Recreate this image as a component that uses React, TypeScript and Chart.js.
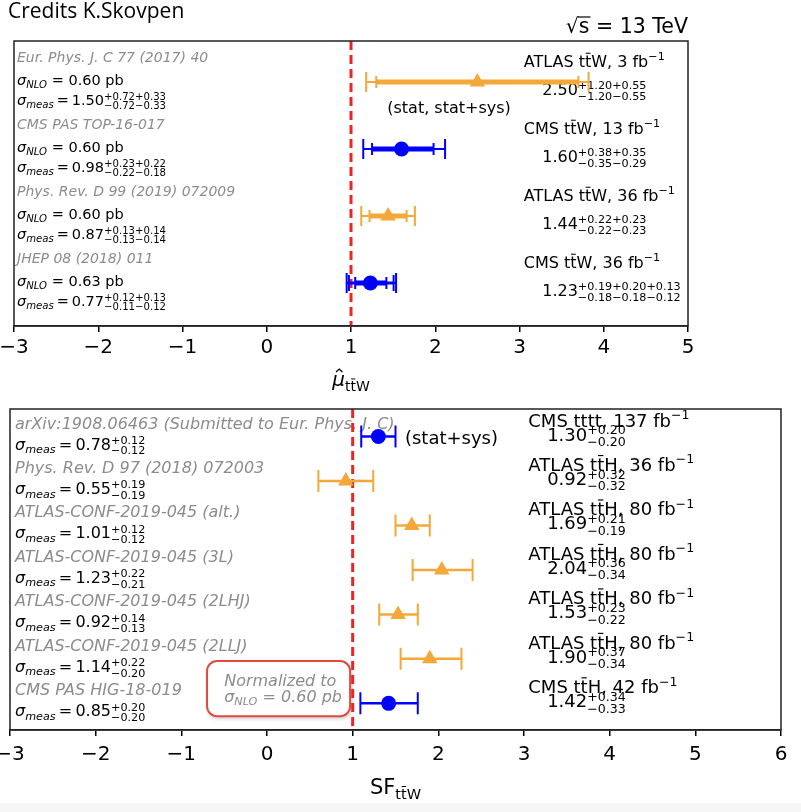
import React, { useEffect, useRef } from 'react';
import { Chart, registerables } from 'chart.js';
Chart.register(...registerables);

const FAM = "'DejaVu Sans', sans-serif";
const ORANGE = '#f4a83a';
const BLUE = '#0000ff';
const GRAY = '#8c8c8c';
const RED = '#ee2424';
const OFF = 50; // canvas shifted left by this many px

// ---------- top panel data ----------
const topRefs = ['Eur. Phys. J. C 77 (2017) 40', 'CMS PAS TOP-16-017', 'Phys. Rev. D 99 (2019) 072009', 'JHEP 08 (2018) 011'];
const topNLO = ['0.60', '0.60', '0.60', '0.63'];
const topMeas = ['1.50', '0.98', '0.87', '0.77'];
const topMeasUp = [['0.72', '0.33'], ['0.23', '0.22'], ['0.13', '0.14'], ['0.12', '0.13']];
const topMeasDown = [['0.72', '0.33'], ['0.22', '0.18'], ['0.13', '0.14'], ['0.11', '0.12']];
const topExp = ['ATLAS', 'CMS', 'ATLAS', 'CMS'];
const topProc = ['tt\u0304W', 'tt\u0304W', 'tt\u0304W', 'tt\u0304W'];
const topLumi = ['3', '13', '36', '36'];
const topMu = [2.5, 1.6, 1.44, 1.23];
const topMuUp = [[1.2, 0.55], [0.38, 0.35], [0.22, 0.23], [0.19, 0.2, 0.13]];
const topMuDown = [[1.2, 0.55], [0.35, 0.29], [0.22, 0.23], [0.18, 0.18, 0.12]];
const topXRange = [-3, 5];

// ---------- bottom panel data ----------
const botRefs = ['arXiv:1908.06463 (Submitted to Eur. Phys. J. C)', 'Phys. Rev. D 97 (2018) 072003', 'ATLAS-CONF-2019-045 (alt.)', 'ATLAS-CONF-2019-045 (3L)', 'ATLAS-CONF-2019-045 (2LHJ)', 'ATLAS-CONF-2019-045 (2LLJ)', 'CMS PAS HIG-18-019'];
const botMeas = ['0.78', '0.55', '1.01', '1.23', '0.92', '1.14', '0.85'];
const botMeasUp = ['0.12', '0.19', '0.12', '0.22', '0.14', '0.22', '0.20'];
const botMeasDown = ['0.12', '0.19', '0.12', '0.21', '0.13', '0.20', '0.20'];
const botExp = ['CMS', 'ATLAS', 'ATLAS', 'ATLAS', 'ATLAS', 'ATLAS', 'CMS'];
const botProc = ['tttt', 'tt\u0304H', 'tt\u0304H', 'tt\u0304H', 'tt\u0304H', 'tt\u0304H', 'tt\u0304H'];
const botLumi = ['137', '36', '80', '80', '80', '80', '42'];
const botSF = [1.30, 0.92, 1.69, 2.04, 1.53, 1.90, 1.42];
const botSFUp = [0.20, 0.32, 0.21, 0.36, 0.23, 0.37, 0.34];
const botSFDown = [0.20, 0.32, 0.19, 0.34, 0.22, 0.34, 0.33];
const botXRange = [-3, 6];

type Opt = { italic?: boolean; color?: string; fam?: string };
function fontStr(size: number, o: Opt = {}) {
  return `${o.italic ? 'italic ' : ''}${size}px ${o.fam || FAM}`;
}
function put(ctx: CanvasRenderingContext2D, s: string, x: number, y: number, size: number, o: Opt = {}) {
  ctx.font = fontStr(size, o);
  ctx.fillStyle = o.color || '#000';
  ctx.textAlign = 'left';
  ctx.textBaseline = 'alphabetic';
  ctx.fillText(s, x, y);
  return ctx.measureText(s).width;
}
function measure(ctx: CanvasRenderingContext2D, s: string, size: number, o: Opt = {}) {
  ctx.font = fontStr(size, o);
  return ctx.measureText(s).width;
}
function putBar(ctx: CanvasRenderingContext2D, s: string, x: number, y: number, size: number, o: Opt = {}) {
  let cx = x;
  let run = '';
  const chars = Array.from(s);
  for (let i = 0; i < chars.length; i++) {
    const c = chars[i];
    if (chars[i + 1] === '\u0304') {
      if (run) { cx += put(ctx, run, cx, y, size, o); run = ''; }
      const w = put(ctx, c, cx, y, size, o);
      ctx.strokeStyle = o.color || '#000';
      ctx.lineWidth = Math.max(1, size * 0.065);
      const by = y - size * 0.86;
      ctx.beginPath(); ctx.moveTo(cx + w * 0.12, by); ctx.lineTo(cx + w * 0.88, by); ctx.stroke();
      cx += w; i++;
    } else run += c;
  }
  if (run) cx += put(ctx, run, cx, y, size, o);
  return cx - x;
}
function putScripted(ctx: CanvasRenderingContext2D, base: string, ups: string[], downs: string[], x: number, y: number, size: number, o: Opt = {}) {
  const w = put(ctx, base, x, y, size, o);
  const ss = size * 0.7;
  const a = put(ctx, ups.map(u => '+' + u).join(''), x + w, y - size * 0.36, ss, o);
  const b = put(ctx, downs.map(d => '\u2212' + d).join(''), x + w, y + size * 0.3, ss, o);
  return w + Math.max(a, b);
}
function putSigma(ctx: CanvasRenderingContext2D, sub: string, x: number, y: number, size: number, o: Opt = {}) {
  let w = put(ctx, 'σ', x, y, size, { ...o, italic: true });
  w += put(ctx, sub, x + w, y + size * 0.22, size * 0.7, { ...o, italic: true });
  return w;
}
function putProc(ctx: CanvasRenderingContext2D, exp: string, proc: string, lumi: string, x: number, y: number, size: number) {
  let cx = x;
  cx += put(ctx, exp + ' ', cx, y, size);
  cx += putBar(ctx, proc, cx, y, size);
  cx += put(ctx, ', ' + lumi + ' fb', cx, y, size);
  cx += put(ctx, '\u22121', cx, y - size * 0.42, size * 0.7);
  return cx - x;
}
function quad(a: number[], k: number) {
  let s = 0;
  for (let i = 0; i < k; i++) s += a[i] * a[i];
  return Math.sqrt(s);
}
function drawErr(chart: any, vals: number[], ups: number[][], downs: number[][], colors: string[], single: boolean) {
  const ctx: CanvasRenderingContext2D = chart.ctx;
  const xs = chart.scales.x, ys = chart.scales.y;
  vals.forEach((v, i) => {
    const y = ys.getPixelForValue(i);
    const n = ups[i].length;
    for (let k = n; k >= 1; k--) {
      const hi = quad(ups[i], k), lo = quad(downs[i], k);
      const x1 = xs.getPixelForValue(v - lo), x2 = xs.getPixelForValue(v + hi);
      let lw = 2, cap = 10;
      if (single) { lw = 2.5; cap = 11; }
      else if (k === n) { lw = 2; cap = 10; }
      else if (k === 1) { lw = 5; cap = 6; }
      else { lw = 3; cap = 8; }
      ctx.strokeStyle = colors[i];
      ctx.setLineDash([]);
      ctx.lineWidth = lw;
      ctx.beginPath(); ctx.moveTo(x1, y); ctx.lineTo(x2, y); ctx.stroke();
      ctx.lineWidth = 2;
      ctx.beginPath();
      ctx.moveTo(x1, y - cap); ctx.lineTo(x1, y + cap);
      ctx.moveTo(x2, y - cap); ctx.lineTo(x2, y + cap);
      ctx.stroke();
    }
  });
}
function drawRefLine(chart: any) {
  const ctx: CanvasRenderingContext2D = chart.ctx;
  const ca = chart.chartArea;
  const x = chart.scales.x.getPixelForValue(1);
  ctx.save();
  ctx.strokeStyle = RED; ctx.lineWidth = 3; ctx.setLineDash([9, 5]);
  ctx.beginPath(); ctx.moveTo(x, ca.top); ctx.lineTo(x, ca.bottom); ctx.stroke();
  ctx.restore();
}
function drawFrame(chart: any) {
  const ctx: CanvasRenderingContext2D = chart.ctx;
  const ca = chart.chartArea;
  ctx.save();
  ctx.strokeStyle = '#222'; ctx.lineWidth = 1.5; ctx.setLineDash([]);
  ctx.strokeRect(ca.left, ca.top, ca.right - ca.left, ca.bottom - ca.top);
  ctx.restore();
}

function colorsOf(exps: string[]) { return exps.map(e => (e === 'ATLAS' ? ORANGE : BLUE)); }

function buildConfig(p: {
  vals: number[]; exps: string[]; xr: number[]; yr: number[];
  pad: { left: number; right: number; top: number }; scaleH: number; tickPad: number;
  before: (c: any) => void;
}) {
  const cols = colorsOf(p.exps);
  return {
    type: 'scatter' as const,
    data: {
      datasets: [{
        data: p.vals.map((v, i) => ({ x: v, y: i })),
        pointStyle: p.exps.map(e => (e === 'ATLAS' ? 'triangle' : 'circle')),
        pointRadius: p.exps.map(e => (e === 'ATLAS' ? 9 : 7.5)),
        pointBackgroundColor: cols,
        pointBorderColor: cols,
        pointBorderWidth: 0,
        showLine: false,
      }],
    },
    options: {
      animation: false as const,
      responsive: false,
      devicePixelRatio: 1,
      events: [],
      layout: { padding: { left: p.pad.left, right: p.pad.right, top: p.pad.top, bottom: 0 } },
      plugins: { legend: { display: false }, tooltip: { enabled: false } },
      scales: {
        x: {
          type: 'linear' as const, min: p.xr[0], max: p.xr[1],
          ticks: {
            stepSize: 1, autoSkip: false, maxRotation: 0, padding: p.tickPad, color: '#000',
            font: { size: 20, family: FAM },
            callback: (v: any) => (Number(v) < 0 ? '\u2212' + Math.abs(Number(v)) : String(v)),
          },
          grid: { drawOnChartArea: false, drawTicks: true, tickLength: 6, color: '#000', lineWidth: 1.5 },
          border: { display: true, color: '#222', width: 1.5 },
          afterFit: (s: any) => { s.height = p.scaleH; },
        },
        y: { type: 'linear' as const, display: false, min: p.yr[0], max: p.yr[1], reverse: true },
      },
    },
    plugins: [{
      id: 'decor',
      beforeDatasetsDraw: (c: any) => { p.before(c); },
      afterDraw: (c: any) => { drawFrame(c); },
    }],
  };
}

function drawTop(chart: any) {
  const ctx: CanvasRenderingContext2D = chart.ctx;
  const ca = chart.chartArea;
  const xs = chart.scales.x, ys = chart.scales.y;
  ctx.save();
  // header
  put(ctx, 'Credits K.Skovpen', 8 + OFF, 18, 21, { fam: "'Open Sans', sans-serif" });
  {
    const size = 20.5;
    const tail = ' = 13 TeV';
    const wr = measure(ctx, '√', size), ws = measure(ctx, 's', size), wt = measure(ctx, tail, size);
    let x = ca.right - (wr + ws + wt);
    const y = 33;
    put(ctx, '√', x, y, size);
    ctx.strokeStyle = '#000'; ctx.lineWidth = 1.2;
    ctx.beginPath(); ctx.moveTo(x + wr - 1, y - size * 0.78); ctx.lineTo(x + wr + ws + 1, y - size * 0.78); ctx.stroke();
    put(ctx, 's', x + wr, y, size);
    put(ctx, tail, x + wr + ws, y, size);
  }
  // axis title
  {
    const cx = (ca.left + ca.right) / 2;
    const wm = measure(ctx, 'μ', 20, { italic: true });
    const wsub = measure(ctx, 'ttW', 14);
    let x = cx - (wm + wsub) / 2;
    const y = 386;
    put(ctx, 'μ', x, y, 20, { italic: true });
    ctx.strokeStyle = '#000'; ctx.lineWidth = 1.2;
    ctx.beginPath();
    ctx.moveTo(x + wm * 0.3, y - 14); ctx.lineTo(x + wm * 0.55, y - 17); ctx.lineTo(x + wm * 0.8, y - 14);
    ctx.stroke();
    putBar(ctx, 'tt\u0304W', x + wm, y + 5, 14);
  }
  // left texts
  const x0 = ca.left + 3;
  const fs = 14.5;
  topRefs.forEach((r, i) => {
    const ry = ys.getPixelForValue(i);
    put(ctx, r, x0, ry - 20, 14, { italic: true, color: GRAY });
    let w = putSigma(ctx, 'NLO', x0, ry + 3, fs);
    put(ctx, ' = ' + topNLO[i] + ' pb', x0 + w, ry + 3, fs);
    w = putSigma(ctx, 'meas', x0, ry + 23, fs);
    w += put(ctx, '\u2009=\u2009', x0 + w, ry + 23, fs);
    putScripted(ctx, topMeas[i], topMeasUp[i], topMeasDown[i], x0 + w, ry + 23, fs);
  });
  // right texts
  topMu.forEach((v, i) => {
    const ry = ys.getPixelForValue(i);
    putProc(ctx, topExp[i], topProc[i], topLumi[i], xs.getPixelForValue(3.05), ry - 15, 16);
    putScripted(ctx, v.toFixed(2), topMuUp[i].map(u => u.toFixed(2)), topMuDown[i].map(d => d.toFixed(2)), xs.getPixelForValue(3.27), ry + 13, 16);
  });
  put(ctx, '(stat, stat+sys)', xs.getPixelForValue(1.43), ys.getPixelForValue(0) + 31, 16);
  drawRefLine(chart);
  drawErr(chart, topMu, topMuUp, topMuDown, colorsOf(topExp), false);
  ctx.restore();
}

function drawBottom(chart: any) {
  const ctx: CanvasRenderingContext2D = chart.ctx;
  const ca = chart.chartArea;
  const xs = chart.scales.x, ys = chart.scales.y;
  ctx.save();
  const x0 = ca.left + 5;
  botRefs.forEach((r, i) => {
    const ry = ys.getPixelForValue(i);
    put(ctx, r, x0, ry - 8, 16, { italic: true, color: GRAY });
    let w = putSigma(ctx, 'meas', x0, ry + 13, 16);
    w += put(ctx, '\u2009=\u2009', x0 + w, ry + 13, 16);
    putScripted(ctx, botMeas[i], [botMeasUp[i]], [botMeasDown[i]], x0 + w, ry + 13, 16);
  });
  botSF.forEach((v, i) => {
    const ry = ys.getPixelForValue(i);
    putProc(ctx, botExp[i], botProc[i], botLumi[i], xs.getPixelForValue(3.05), ry - 10, 18);
    putScripted(ctx, v.toFixed(2), [botSFUp[i].toFixed(2)], [botSFDown[i].toFixed(2)], xs.getPixelForValue(3.27), ry + 4, 18);
  });
  put(ctx, '(stat+sys)', xs.getPixelForValue(1.61), ys.getPixelForValue(0) + 7, 18);
  // annotation box
  {
    const bx1 = xs.getPixelForValue(-0.70), bx2 = xs.getPixelForValue(0.97);
    const by1 = ys.getPixelForValue(5.05), by2 = ys.getPixelForValue(6.29);
    ctx.save();
    ctx.shadowColor = 'rgba(0,0,0,0.25)'; ctx.shadowBlur = 4; ctx.shadowOffsetX = 1; ctx.shadowOffsetY = 2;
    ctx.beginPath();
    (ctx as any).roundRect(bx1, by1, bx2 - bx1, by2 - by1, 10);
    ctx.fillStyle = '#fff'; ctx.fill();
    ctx.restore();
    ctx.beginPath();
    (ctx as any).roundRect(bx1, by1, bx2 - bx1, by2 - by1, 10);
    ctx.strokeStyle = '#e04a40'; ctx.lineWidth = 2; ctx.setLineDash([]); ctx.stroke();
    const tx = xs.getPixelForValue(-0.50);
    put(ctx, 'Normalized to', tx, ys.getPixelForValue(5.62), 16, { italic: true, color: GRAY });
    const w = putSigma(ctx, 'NLO', tx, ys.getPixelForValue(5.96), 16, { color: GRAY });
    put(ctx, ' = 0.60 pb', tx + w, ys.getPixelForValue(5.96), 16, { italic: true, color: GRAY });
  }
  // axis title
  {
    const cx = (ca.left + ca.right) / 2;
    const wm = measure(ctx, 'SF', 21);
    const wsub = measure(ctx, 'ttW', 14.5);
    const x = cx - (wm + wsub) / 2;
    const y = 394;
    put(ctx, 'SF', x, y, 21);
    putBar(ctx, 'tt\u0304W', x + wm, y + 5, 14.5);
  }
  drawRefLine(chart);
  drawErr(chart, botSF, botSFUp.map(u => [u]), botSFDown.map(d => [d]), colorsOf(botExp), true);
  ctx.restore();
}

export default function App() {
  const topRef = useRef<HTMLCanvasElement>(null);
  const botRef = useRef<HTMLCanvasElement>(null);
  useEffect(() => {
    const c1 = new Chart(topRef.current as HTMLCanvasElement, buildConfig({
      vals: topMu, exps: topExp, xr: topXRange, yr: [-0.612, 3.642],
      pad: { left: 14 + OFF, right: 900 - 688 - OFF, top: 41 }, scaleH: 400 - 326, tickPad: 4,
      before: drawTop,
    }) as any);
    const c2 = new Chart(botRef.current as HTMLCanvasElement, buildConfig({
      vals: botSF, exps: botExp, xr: botXRange, yr: [-0.62, 6.6],
      pad: { left: 10 + OFF, right: 900 - 781 - OFF, top: 4 }, scaleH: 412 - 330, tickPad: 7,
      before: drawBottom,
    }) as any);
    return () => { c1.destroy(); c2.destroy(); };
  }, []);
  return (
    <div style={{ position: 'fixed', left: 0, top: 0, width: 801, height: 812, overflow: 'hidden', background: '#fff' }}>
      <canvas ref={topRef} width={900} height={400} style={{ position: 'absolute', left: -OFF, top: 0, width: 900, height: 400 }} />
      <canvas ref={botRef} width={900} height={412} style={{ position: 'absolute', left: -OFF, top: 400, width: 900, height: 412 }} />
      <div style={{ position: 'absolute', left: 0, top: 803, width: 801, height: 9, background: '#f6f6f6' }} />
    </div>
  );
}
